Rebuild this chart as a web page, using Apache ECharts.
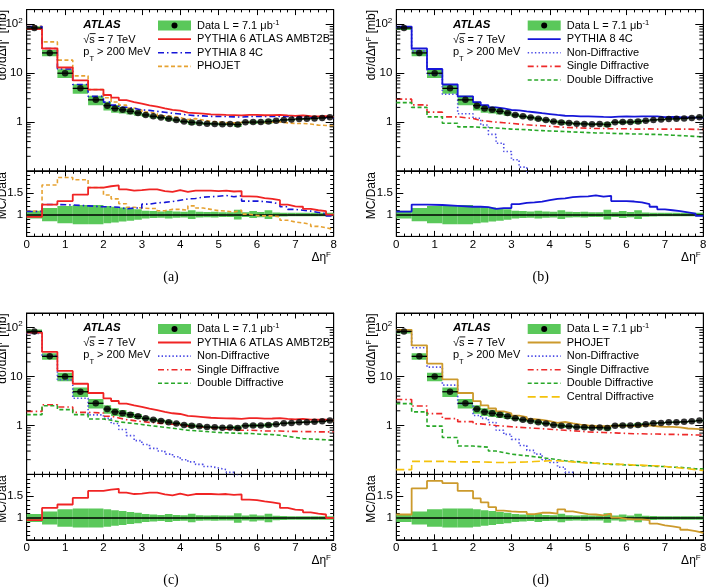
<!DOCTYPE html>
<html><head><meta charset="utf-8">
<script src="https://cdn.jsdelivr.net/npm/echarts@6/dist/echarts.min.js"></script>
<style>html,body{margin:0;padding:0;background:#fff}#c{width:714px;height:587px}</style>
</head><body><div id="c"></div>
<script>
// ---------------- data ----------------
const edges = [0, 0.4, 0.8, 1.2, 1.6, 2.0, 2.2, 2.4, 2.6, 2.8, 3.0, 3.2, 3.4, 3.6, 3.8, 4.0, 4.2, 4.4, 4.6, 4.8, 5.0, 5.2, 5.4, 5.6, 5.8, 6.0, 6.2, 6.4, 6.6, 6.8, 7.0, 7.2, 7.4, 7.6, 7.8, 8.0];
const dataVals = [84, 26, 10, 4.9, 2.85, 2.17, 1.9, 1.78, 1.66, 1.54, 1.4, 1.31, 1.24, 1.17, 1.10, 1.03, 0.985, 0.96, 0.93, 0.92, 0.905, 0.91, 0.89, 0.99, 1.0, 1.0, 1.025, 1.06, 1.11, 1.13, 1.16, 1.17, 1.19, 1.22, 1.26];
const dataErr = [0.09, 0.15, 0.2, 0.22, 0.22, 0.2, 0.18, 0.16, 0.14, 0.12, 0.09, 0.08, 0.07, 0.09, 0.07, 0.065, 0.1, 0.065, 0.06, 0.065, 0.055, 0.055, 0.11, 0.055, 0.08, 0.06, 0.1, 0.05, 0.045, 0.04, 0.04, 0.04, 0.04, 0.04, 0.04];

// MC totals, main panels
const py6Total = [79.8, 32.0, 13.1, 7.15, 4.62, 3.58, 3.17, 2.81, 2.57, 2.40, 2.21, 2.07, 1.91, 1.78, 1.72, 1.57, 1.53, 1.49, 1.44, 1.42, 1.40, 1.39, 1.37, 1.41, 1.41, 1.38, 1.39, 1.41, 1.37, 1.34, 1.37, 1.32, 1.31, 1.32, 1.26];
const py8Total = [89.9, 32.0, 12.2, 5.88, 3.36, 2.56, 2.22, 2.01, 1.91, 1.77, 1.74, 1.66, 1.59, 1.52, 1.46, 1.40, 1.35, 1.34, 1.31, 1.31, 1.30, 1.28, 1.27, 1.30, 1.31, 1.30, 1.31, 1.31, 1.31, 1.27, 1.28, 1.26, 1.25, 1.24, 1.22];
const phoTotal = [90.7, 43.7, 18.5, 8.82, 4.62, 3.15, 2.58, 2.23, 1.94, 1.77, 1.60, 1.49, 1.35, 1.31, 1.23, 1.13, 1.18, 1.10, 1.04, 1.00, 0.977, 0.965, 0.979, 1.00, 0.98, 0.97, 0.994, 1.01, 0.966, 0.938, 0.94, 0.913, 0.869, 0.854, 0.832];

// MC / Data ratios
const ratioPy6 = [0.95, 1.23, 1.31, 1.46, 1.62, 1.65, 1.67, 1.58, 1.55, 1.56, 1.58, 1.58, 1.54, 1.52, 1.56, 1.52, 1.55, 1.55, 1.55, 1.54, 1.55, 1.53, 1.54, 1.42, 1.41, 1.38, 1.36, 1.33, 1.23, 1.19, 1.18, 1.13, 1.10, 1.08, 1.0];
const ratioPy8 = [1.07, 1.23, 1.22, 1.2, 1.18, 1.18, 1.17, 1.13, 1.15, 1.15, 1.24, 1.27, 1.28, 1.30, 1.33, 1.36, 1.37, 1.40, 1.41, 1.42, 1.44, 1.41, 1.43, 1.31, 1.31, 1.30, 1.28, 1.24, 1.18, 1.12, 1.10, 1.08, 1.05, 1.02, 0.97];
const ratioPho = [1.08, 1.68, 1.85, 1.8, 1.62, 1.45, 1.36, 1.25, 1.17, 1.15, 1.14, 1.14, 1.09, 1.12, 1.12, 1.10, 1.2, 1.15, 1.12, 1.09, 1.08, 1.06, 1.10, 1.01, 0.98, 0.97, 0.97, 0.95, 0.87, 0.83, 0.81, 0.78, 0.73, 0.70, 0.66];

// PYTHIA 8 components
const py8ND = [85, 28, 9.3, 3.7, 1.48, 1.2, 0.87, 0.56, 0.37, 0.25, 0.17, 0.12, 0.085, null, null, null, null, null, null, null, null, null, null, null, null, null, null, null, null, null, null, null, null, null, null];
const py8SD = [2.95, 2.25, 1.6, 1.28, 1.18, 1.08, 1.04, 1.0, 0.97, 0.94, 0.91, 0.88, 0.86, 0.84, 0.82, 0.8, 0.78, 0.77, 0.76, 0.75, 0.74, 0.74, 0.73, 0.73, 0.73, 0.72, 0.72, 0.73, 0.72, 0.72, 0.72, 0.72, 0.72, 0.71, 0.71];
const py8DD = [2.5, 2.0, 1.28, 0.95, 0.8, 0.78, 0.77, 0.76, 0.74, 0.72, 0.71, 0.70, 0.68, 0.67, 0.66, 0.65, 0.64, 0.63, 0.62, 0.61, 0.6, 0.6, 0.59, 0.58, 0.58, 0.57, 0.57, 0.56, 0.56, 0.55, 0.54, 0.53, 0.52, 0.51, 0.5];
// PYTHIA 6 components
const py6ND = [76, 27, 8.6, 3.6, 1.65, 1.4, 1.1, 0.83, 0.62, 0.49, 0.41, 0.34, 0.3, 0.26, 0.23, 0.2, 0.18, 0.16, 0.145, 0.135, 0.125, 0.11, 0.095, null, null, null, null, null, null, null, null, null, null, null, null];
const py6SD = [1.95, 2.66, 2.39, 1.86, 1.8, 1.55, 1.43, 1.32, 1.26, 1.2, 1.16, 1.12, 1.1, 1.06, 1.03, 0.97, 0.95, 0.92, 0.9, 0.87, 0.84, 0.82, 0.8, 0.8, 0.79, 0.77, 0.77, 0.77, 0.76, 0.76, 0.75, 0.75, 0.74, 0.74, 0.74];
const py6DD = [1.67, 2.54, 2.11, 1.67, 1.36, 1.28, 1.19, 1.14, 1.1, 1.05, 1.0, 0.96, 0.92, 0.88, 0.84, 0.8, 0.78, 0.76, 0.74, 0.72, 0.71, 0.7, 0.69, 0.69, 0.67, 0.66, 0.65, 0.63, 0.6, 0.57, 0.54, 0.53, 0.52, 0.51, 0.5];
// PHOJET components
const phoND = [85, 39, 15.6, 6.7, 2.8, 1.6, 1.4, 1.15, 0.8, 0.66, 0.52, 0.39, 0.31, 0.26, 0.2, 0.175, 0.14, 0.11, 0.09, null, null, null, null, null, null, null, null, null, null, null, null, null, null, null, null];
const phoSD = [3.4, 2.5, 1.75, 1.38, 1.2, 1.08, 1.04, 1.0, 0.97, 0.94, 0.92, 0.9, 0.88, 0.86, 0.84, 0.82, 0.8, 0.78, 0.76, 0.74, 0.73, 0.72, 0.71, 0.7, 0.69, 0.68, 0.68, 0.67, 0.67, 0.66, 0.66, 0.65, 0.65, 0.64, 0.64];
const phoDD = [2.8, 1.9, 0.97, 0.57, 0.38, 0.37, 0.36, 0.3, 0.28, 0.26, 0.25, 0.24, 0.23, 0.22, 0.21, 0.2, 0.19, 0.185, 0.18, 0.175, 0.17, 0.165, 0.16, 0.16, 0.155, 0.155, 0.15, 0.15, 0.145, 0.145, 0.14, 0.14, 0.135, 0.13, 0.13];
const phoCD = [0.125, 0.185, 0.185, 0.18, 0.18, 0.18, 0.178, 0.176, 0.175, 0.175, 0.178, 0.18, 0.183, 0.186, 0.19, 0.19, 0.185, 0.18, 0.175, 0.17, 0.17, 0.165, 0.165, 0.16, 0.16, 0.155, 0.155, 0.15, 0.15, 0.145, 0.14, 0.135, 0.13, 0.125, 0.12];

// axis ticks / labels
const xTickLabels = ['0', '1', '2', '3', '4', '5', '6', '7', '8'];
const mainYTickValues = [1, 10, 100];
const mainYTickLabels = ['{n|1}', '{n|10}', '{n|10}{s|2}'];
const mainYMinorTicks = [0.2, 0.3, 0.4, 0.5, 0.6, 0.7, 0.8, 0.9, 2, 3, 4, 5, 6, 7, 8, 9, 20, 30, 40, 50, 60, 70, 80, 90];
const ratioYTickValues = [1, 1.5];
const ratioYTickLabels = ['1', '1.5'];
const Y_MIN = 0.1, Y_MAX = 200, R_MIN = 0.5, R_MAX = 2;

// ---------------- styling / layout ----------------
const FONT = "'Liberation Sans', Arial, Helvetica, sans-serif";
const SERIF = "'Liberation Serif', 'DejaVu Serif', serif";
const GREEN = '#5ac85a', RED = '#f02424', BLUE = '#1616d8', ORANGE = '#e6a232', GOLD = '#cc9a2c',
      NDC = '#4c4ce6', SDC = '#ee2a2a', DDC = '#28a828', CDC = '#f4c20c';
const DASHDOT = [6, 3, 1.5, 3], DASH = [4, 2.5], DOT = [1.4, 2.2], LDASH = [8, 4];

const COL_LEFT = [26.7, 396.3];
const ROW_TOP = [9.6, 313.0];
const COL_DX = [0, 369.7];
const ROW_DY = [0, 303.3];
const FRAME_W = 307, MAIN_H = 161.4, RATIO_H = 65.4;

const ND = {name: 'Non-Diffractive', color: NDC, dash: DOT, w: 1.6};
const SD = {name: 'Single Diffractive', color: SDC, dash: DASHDOT, w: 1.6};
const DD = {name: 'Double Diffractive', color: DDC, dash: DASH, w: 1.6};
const CD = {name: 'Central Diffractive', color: CDC, dash: LDASH, w: 1.6};

const panels = [
  {cap: '(a)', col: 0, row: 0,
   mc: [{name: 'PYTHIA 6 ATLAS AMBT2B', vals: py6Total, ratio: ratioPy6, color: RED, dash: 'solid', w: 1.8},
        {name: 'PYTHIA 8 4C', vals: py8Total, ratio: ratioPy8, color: BLUE, dash: DASHDOT, w: 1.6},
        {name: 'PHOJET', vals: phoTotal, ratio: ratioPho, color: ORANGE, dash: DASH, w: 1.6}],
   comps: []},
  {cap: '(b)', col: 1, row: 0,
   mc: [{name: 'PYTHIA 8 4C', vals: py8Total, ratio: ratioPy8, color: BLUE, dash: 'solid', w: 1.8}],
   comps: [Object.assign({vals: py8ND}, ND), Object.assign({vals: py8SD}, SD), Object.assign({vals: py8DD}, DD)]},
  {cap: '(c)', col: 0, row: 1,
   mc: [{name: 'PYTHIA 6 ATLAS AMBT2B', vals: py6Total, ratio: ratioPy6, color: RED, dash: 'solid', w: 1.8}],
   comps: [Object.assign({vals: py6ND}, ND), Object.assign({vals: py6SD}, SD), Object.assign({vals: py6DD}, DD)]},
  {cap: '(d)', col: 1, row: 1,
   mc: [{name: 'PHOJET', vals: phoTotal, ratio: ratioPho, color: GOLD, dash: 'solid', w: 1.8}],
   comps: [Object.assign({vals: phoND}, ND), Object.assign({vals: phoSD}, SD), Object.assign({vals: phoDD}, DD), Object.assign({vals: phoCD}, CD)]}
];

// ---------------- helpers ----------------
const grids = [], xAxes = [], yAxes = [], series = [], graphics = [];
function near(a, b) { return Math.abs(a - b) <= 1e-6 * Math.max(1, Math.abs(b)); }
function makeGrid(left, top, height) {
  grids.push({left: left, top: top, width: FRAME_W, height: height, show: true, borderColor: '#000', borderWidth: 1,
              backgroundColor: 'rgba(0,0,0,0)', containLabel: false, outerBoundsMode: 'none'});
  return grids.length - 1;
}
const AXLINE = {show: true, onZero: false, lineStyle: {color: '#000', width: 1}};
function addX(g, pos, labels) {
  xAxes.push({type: 'value', gridIndex: g, position: pos, min: 0, max: 8, interval: 1,
    axisLine: AXLINE,
    axisTick: {show: true, inside: true, length: 5.5, lineStyle: {color: '#000', width: 1}},
    minorTick: {show: true, splitNumber: 5, length: 2.8, lineStyle: {color: '#000', width: 1}},
    splitLine: {show: false}, minorSplitLine: {show: false},
    axisLabel: {show: labels, margin: 2, color: '#000', fontFamily: FONT, fontSize: 11.5,
      showMinLabel: true, showMaxLabel: true, formatter: v => xTickLabels[Math.round(v)] || ''}});
  return xAxes.length - 1;
}
function addYLog(g, pos, labels) {
  yAxes.push({type: 'log', logBase: 10, gridIndex: g, position: pos, min: Y_MIN, max: Y_MAX,
    axisLine: AXLINE,
    axisTick: {show: true, inside: true, length: 8, lineStyle: {color: '#000', width: 1}},
    minorTick: {show: false}, splitLine: {show: false},
    axisLabel: {show: labels, margin: 4, color: '#000', showMinLabel: false, showMaxLabel: false,
      formatter: v => { const i = mainYTickValues.findIndex(t => near(v, t)); return i < 0 ? '' : mainYTickLabels[i]; },
      rich: {n: {fontSize: 11.5, fontFamily: FONT, color: '#000', lineHeight: 16},
             s: {fontSize: 8, fontFamily: FONT, color: '#000', verticalAlign: 'top', lineHeight: 9}}}});
  return yAxes.length - 1;
}
function addYRatio(g, pos, labels) {
  yAxes.push({type: 'value', gridIndex: g, position: pos, min: R_MIN, max: R_MAX, interval: 0.5,
    axisLine: AXLINE,
    axisTick: {show: true, inside: true, length: 7, lineStyle: {color: '#000', width: 1}},
    minorTick: {show: true, splitNumber: 5, length: 3.5, lineStyle: {color: '#000', width: 1}},
    splitLine: {show: false}, minorSplitLine: {show: false},
    axisLabel: {show: labels, margin: 3.5, color: '#000', fontFamily: FONT, fontSize: 11.5,
      formatter: v => { const i = ratioYTickValues.findIndex(t => near(v, t)); return i < 0 ? '' : ratioYTickLabels[i]; }}});
  return yAxes.length - 1;
}
function histData(vals) {
  return edges.map((e, i) => { const v = vals[Math.min(i, vals.length - 1)]; return [e, v == null ? '-' : v]; });
}
function histSeries(name, vals, color, dash, w, xi, yi, z) {
  return {type: 'line', name: name, xAxisIndex: xi, yAxisIndex: yi, step: 'end', symbol: 'none', showSymbol: false,
          data: histData(vals), lineStyle: {color: color, width: w, type: dash}, z: z, silent: true, clip: true, animation: false};
}
function bandSeries(xi, yi, rows, markOne) {
  const s = {type: 'custom', xAxisIndex: xi, yAxisIndex: yi, z: 1, silent: true, clip: true,
    encode: {x: [0, 1], y: [2, 3]}, data: rows,
    renderItem: (params, api) => {
      const a = api.coord([api.value(0), api.value(3)]);
      const b = api.coord([api.value(1), api.value(2)]);
      return {type: 'rect', shape: {x: a[0], y: a[1], width: b[0] - a[0], height: b[1] - a[1]}, style: {fill: GREEN}};
    }};
  if (markOne) s.markLine = {silent: true, symbol: 'none', label: {show: false}, z: 3,
    lineStyle: {color: '#000', width: 1.6, type: 'solid'}, data: [{yAxis: 1}]};
  return s;
}

// ---------------- build panels ----------------
panels.forEach((p, k) => {
  const left = COL_LEFT[p.col], top = ROW_TOP[p.row];
  const gM = makeGrid(left, top, MAIN_H);
  const gR = makeGrid(left, top + MAIN_H, RATIO_H);
  const xM = addX(gM, 'bottom', false); addX(gM, 'top', false);
  const yM = addYLog(gM, 'left', true); addYLog(gM, 'right', false);
  const xR = addX(gR, 'bottom', true); addX(gR, 'top', false);
  const yR = addYRatio(gR, 'left', true); addYRatio(gR, 'right', false);

  // log minor ticks (at 2..9 x decade) on both sides of the main frame
  series.push({type: 'custom', xAxisIndex: xM, yAxisIndex: yM, silent: true, z: 20, encode: {x: 0, y: 1},
    data: mainYMinorTicks.map(v => [0, v]),
    renderItem: (params, api) => {
      const v = api.value(1);
      const l = api.coord([0, v]), r = api.coord([8, v]);
      return {type: 'group', children: [
        {type: 'line', shape: {x1: l[0], y1: l[1], x2: l[0] + 4, y2: l[1]}, style: {stroke: '#000', lineWidth: 1}},
        {type: 'line', shape: {x1: r[0] - 4, y1: r[1], x2: r[0], y2: r[1]}, style: {stroke: '#000', lineWidth: 1}}]};
    }});

  // data band (main)
  series.push(bandSeries(xM, yM, dataVals.map((v, i) => [edges[i], edges[i + 1], v * (1 - dataErr[i]), v * (1 + dataErr[i])]), false));
  // components
  p.comps.forEach(c => series.push(histSeries(c.name, c.vals, c.color, c.dash, c.w, xM, yM, 4)));
  // MC totals
  p.mc.slice().reverse().forEach(m => series.push(histSeries(m.name, m.vals, m.color, m.dash, m.w, xM, yM, 5)));
  // data x-bars and points
  series.push({type: 'custom', xAxisIndex: xM, yAxisIndex: yM, silent: true, z: 8, encode: {x: [0, 1], y: 2},
    data: dataVals.map((v, i) => [edges[i], edges[i + 1], v]),
    renderItem: (params, api) => {
      const a = api.coord([api.value(0), api.value(2)]), b = api.coord([api.value(1), api.value(2)]);
      return {type: 'line', shape: {x1: a[0], y1: a[1], x2: b[0], y2: b[1]}, style: {stroke: '#000', lineWidth: 1.3}};
    }});
  series.push({type: 'scatter', xAxisIndex: xM, yAxisIndex: yM, silent: true, z: 9, symbol: 'circle', symbolSize: 6.5,
    itemStyle: {color: '#000'}, data: dataVals.map((v, i) => [(edges[i] + edges[i + 1]) / 2, v])});

  // ratio
  series.push(bandSeries(xR, yR, dataErr.map((e, i) => [edges[i], edges[i + 1], 1 - e, 1 + e]), true));
  p.mc.slice().reverse().forEach(m => series.push(histSeries(m.name + ' ratio', m.ratio, m.color, m.dash, m.w, xR, yR, 5)));

  // ---------- texts ----------
  const dx = COL_DX[p.col], dy = ROW_DY[p.row];
  const txt = (x, y, text, extra) => graphics.push(Object.assign({type: 'text', x: x + dx, y: y + dy, silent: true, z: 100,
    style: Object.assign({text: text, fill: '#000', font: '11px ' + FONT, align: 'left', textAlign: 'left',
      verticalAlign: 'middle', textVerticalAlign: 'middle'}, extra || {})}, {}));
  const RICH = {
    n: {fontSize: 11, fontFamily: FONT, fill: '#000', color: '#000', lineHeight: 13},
    s: {fontSize: 7.5, fontFamily: FONT, fill: '#000', color: '#000', verticalAlign: 'top', lineHeight: 8},
    m: {fontSize: 11, fontFamily: FONT, fill: '#000', color: '#000', lineHeight: 23},
    b: {fontSize: 7.5, fontFamily: FONT, fill: '#000', color: '#000', verticalAlign: 'bottom', lineHeight: 8},
    t: {fontSize: 12, fontFamily: FONT, fill: '#000', color: '#000', lineHeight: 14},
    ts: {fontSize: 8, fontFamily: FONT, fill: '#000', color: '#000', verticalAlign: 'top', lineHeight: 8}
  };
  txt(83.3, 25, 'ATLAS', {font: 'italic bold 11.5px ' + FONT});
  txt(83.3, 39.5, '√s = 7 TeV');
  graphics.push({type: 'line', silent: true, z: 100, shape: {x1: 89.6 + dx, y1: 33.6 + dy, x2: 95.6 + dx, y2: 33.6 + dy}, style: {stroke: '#000', lineWidth: 0.9}});
  txt(83.3, 51.5, '{m|p}{b|T}{m| > 200 MeV}', {rich: RICH});

  // legend
  const entries = [{label: '{n|Data L = 7.1 μb}{s|-1}', kind: 'data'}]
    .concat(p.mc.map(m => ({label: '{n|' + m.name + '}', kind: 'line', color: m.color, dash: m.dash, w: m.w})))
    .concat(p.comps.map(c => ({label: '{n|' + c.name + '}', kind: 'line', color: c.color, dash: c.dash, w: c.w})));
  entries.forEach((e, i) => {
    const y = 25.6 + 13.6 * i;
    if (e.kind === 'data') {
      graphics.push({type: 'rect', silent: true, z: 100, shape: {x: 158 + dx, y: y - 5 + dy, width: 33, height: 10}, style: {fill: GREEN}});
      graphics.push({type: 'circle', silent: true, z: 101, shape: {cx: 174.5 + dx, cy: y + dy, r: 3}, style: {fill: '#000'}});
    } else {
      graphics.push({type: 'line', silent: true, z: 100, shape: {x1: 158 + dx, y1: y + dy, x2: 191 + dx, y2: y + dy},
        style: {stroke: e.color, lineWidth: e.w, lineDash: e.dash === 'solid' ? null : e.dash}});
    }
    txt(197, y, e.label, {rich: RICH});
  });

  // axis titles
  txt(331, 257.5, '{t|Δη}{ts|F}', {rich: RICH, align: 'right', textAlign: 'right'});
  graphics.push({type: 'text', x: 2.3 + dx, y: 10 + dy, rotation: Math.PI / 2, silent: true, z: 100,
    style: {text: '{t|dσ/dΔη}{ts|F}{t| [mb]}', rich: RICH, align: 'right', textAlign: 'right', verticalAlign: 'middle', textVerticalAlign: 'middle', fill: '#000', font: '12px ' + FONT}});
  graphics.push({type: 'text', x: 2.3 + dx, y: 172 + dy, rotation: Math.PI / 2, silent: true, z: 100,
    style: {text: 'MC/Data', align: 'right', textAlign: 'right', verticalAlign: 'middle', textVerticalAlign: 'middle', fill: '#000', font: '12px ' + FONT}});
  txt(171, 277.5, p.cap, {font: '14px ' + SERIF, align: 'center', textAlign: 'center'});
});

const chart = echarts.init(document.getElementById('c'), null, {renderer: 'canvas'});
chart.setOption({animation: false, backgroundColor: '#fff', textStyle: {fontFamily: FONT},
  grid: grids, xAxis: xAxes, yAxis: yAxes, series: series, graphic: graphics});
</script></body></html>
